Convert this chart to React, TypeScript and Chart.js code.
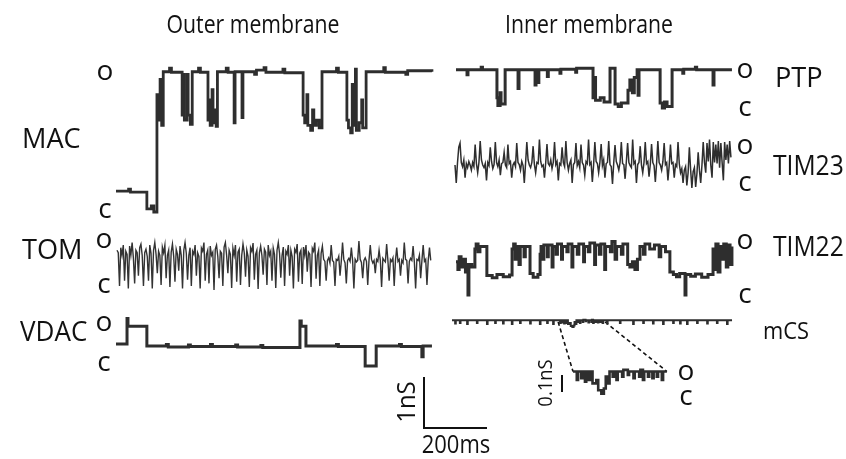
import React, { useEffect, useRef } from "react";
import { Chart, registerables } from "chart.js";

Chart.register(...registerables);

// ---------- calibration (from the scale bars) ----------
const W = 846;
const H = 459;
const PX_PER_MS = 0.315; // 200 ms bar = 63 px
const PX_PER_NS = 51; // 1 nS bar = 51 px

// ---------- data: [time ms, conductance nS above closed level] ----------
type Step = [number, number];

const MAC_STEPS: Step[] = [
  [0, 0.41], [40, 0.45], [46, 0.39], [98, 0.06], [112, 0.12], [120, 0.0], [130, 2.3], [134, 1.8],
  [140, 2.6], [145, 1.7], [150, 2.75], [170, 2.82], [176, 2.74], [210, 1.9], [214, 2.7],
  [217, 1.8], [226, 2.7], [229, 1.9], [236, 1.72], [242, 2.75], [262, 2.82], [268, 2.74],
  [292, 1.8], [296, 2.2], [299, 1.7], [305, 2.4], [308, 1.75], [314, 2.0], [318, 1.68],
  [322, 2.75], [350, 2.82], [356, 2.74], [375, 1.75], [378, 2.75], [400, 1.85], [403, 2.75],
  [440, 2.7], [446, 2.78], [470, 2.83], [476, 2.74], [530, 2.8], [536, 2.73], [594, 1.9],
  [599, 1.75], [606, 2.3], [609, 1.7], [618, 1.6], [624, 2.0], [628, 1.7], [636, 1.8],
  [645, 1.65], [654, 2.75], [700, 2.82], [706, 2.74], [733, 1.8], [738, 1.65], [745, 1.55],
  [750, 2.5], [753, 1.7], [760, 2.8], [763, 1.6], [772, 1.75], [780, 2.2], [783, 1.65],
  [794, 2.75], [850, 2.83], [855, 2.74], [920, 2.7], [926, 2.77], [1003, 2.75],
];

const TOM_DT = 4;
const TOM_VALUES = [
  0.8, 0.75, 0.1, 0.85, 0.7, 0.9, 0.2, 0.78, 0.72, 0.05,
  0.88, 0.7, 0.95, 0.65, 0.15, 0.8, 0.75, 0.3, 0.85, 0.92,
  0.7, 0.1, 0.75, 0.82, 0.68, 0.2, 0.9, 0.74, 0.05, 0.8,
  0.95, 0.72, 0.35, 0.78, 0.7, 0.12, 0.86, 0.75, 0.9, 0.25,
  0.7, 0.8, 0.08, 0.76, 0.92, 0.68, 0.18, 0.82, 0.72, 0.4,
  0.88, 0.7, 0.05, 0.8, 0.95, 0.74, 0.22, 0.7, 0.85, 0.1,
  0.78, 0.72, 0.9, 0.3, 0.75, 0.68, 0.05, 0.84, 0.78, 0.95,
  0.2, 0.72, 0.8, 0.15, 0.88, 0.7, 0.76, 0.02, 0.82, 0.9,
  0.68, 0.25, 0.78, 0.74, 0.1, 0.86, 0.95, 0.7, 0.35, 0.8,
  0.72, 0.06, 0.84, 0.7, 0.9, 0.18, 0.76, 0.82, 0.12, 0.7,
  0.92, 0.75, 0.28, 0.8, 0.68, 0.08, 0.85, 0.78, 0.94, 0.22,
  0.72, 0.8, 0.04, 0.75, 0.88, 0.7, 0.32, 0.82, 0.76, 0.12,
  0.9, 0.7, 0.78, 0.2, 0.84, 0.72, 0.06, 0.8, 0.95, 0.74,
  0.26, 0.7, 0.86, 0.1, 0.78, 0.72, 0.9, 0.3, 0.8, 0.68,
  0.05, 0.82, 0.76, 0.92, 0.18, 0.74, 0.8, 0.14, 0.86, 0.7,
  0.9, 0.38, 0.76, 0.72, 0.08, 0.84, 0.78, 0.95, 0.24, 0.7,
  0.8, 0.1, 0.74, 0.88,
  0.62, 0.58, 0.2, 0.6, 0.65, 0.55, 0.9, 0.6, 0.57, 0.1,
  0.62, 0.6, 0.68, 0.3, 0.58, 0.95, 0.62, 0.55, 0.15, 0.6,
  0.64, 0.58, 0.85, 0.6, 0.05, 0.62, 0.57, 0.6, 0.98, 0.62,
  0.56, 0.25, 0.6, 0.65, 0.58, 0.12, 0.6, 0.9, 0.62, 0.55,
  0.6, 0.35, 0.62, 0.58, 0.8, 0.6, 0.08, 0.64, 0.6, 0.57,
  0.92, 0.6, 0.2, 0.62, 0.58, 0.65, 0.1, 0.6, 0.85, 0.58,
  0.62, 0.3, 0.6, 0.55, 0.95, 0.62, 0.6, 0.15, 0.58, 0.64,
  0.6, 0.88, 0.57, 0.05, 0.62, 0.6, 0.7, 0.25, 0.6, 0.9,
  0.58, 0.62, 0.12, 0.6, 0.85, 0.6,
];

const VDAC_STEPS: Step[] = [
  [0, 0.45], [35, 0.95], [38, 0.8], [98, 0.41], [160, 0.44], [166, 0.39], [230, 0.43],
  [236, 0.4], [300, 0.44], [306, 0.4], [380, 0.43], [386, 0.39], [460, 0.42], [466, 0.38],
  [584, 0.9], [588, 0.8], [603, 0.41], [700, 0.44], [706, 0.4], [791, 0.02], [826, 0.41],
  [900, 0.44], [906, 0.4], [971, 0.2], [975, 0.41], [1003, 0.41],
];

const PTP_STEPS: Step[] = [
  [0, 0.75], [35, 0.65], [38, 0.75], [80, 0.8], [84, 0.75], [130, 0.2], [133, 0.05],
  [140, 0.3], [143, 0.08], [156, 0.75], [197, 0.38], [200, 0.75], [251, 0.45], [254, 0.75],
  [260, 0.5], [263, 0.75], [290, 0.62], [293, 0.75], [330, 0.68], [333, 0.76], [380, 0.7],
  [383, 0.78], [435, 0.2], [440, 0.6], [443, 0.15], [458, 0.2], [470, 0.12], [489, 0.78],
  [505, 0.08], [515, 0.03], [525, 0.1], [546, 0.35], [552, 0.55], [560, 0.3], [566, 0.6],
  [575, 0.75], [578, 0.25], [581, 0.75], [648, 0.1], [655, 0.0], [662, 0.12], [670, 0.03],
  [686, 0.75], [720, 0.68], [723, 0.76], [760, 0.8], [764, 0.75], [816, 0.45], [819, 0.75],
  [876, 0.75],
];

const TIM23_DT = 4;
const TIM23_VALUES = [
  0.45, 0.1, 0.5, 0.8, 0.88, 0.5, 0.42, 0.55, 0.2, 0.48,
  0.4, 0.52, 0.45, 0.35, 0.5, 0.42, 0.85, 0.48, 0.3, 0.5,
  0.92, 0.55, 0.45, 0.4, 0.48, 0.15, 0.5, 0.44, 0.8, 0.52,
  0.38, 0.46, 0.9, 0.5, 0.42, 0.55, 0.25, 0.48, 0.5, 0.7,
  0.45, 0.4, 0.85, 0.48, 0.52, 0.2, 0.45, 0.5, 0.42, 0.88,
  0.5, 0.46, 0.35, 0.52, 0.44, 0.1, 0.48, 0.9, 0.55, 0.45,
  0.4, 0.5, 0.82, 0.46, 0.3, 0.5, 0.48, 0.95, 0.52, 0.42,
  0.45, 0.2, 0.5, 0.86, 0.48, 0.44, 0.55, 0.38, 0.5, 0.9,
  0.46, 0.52, 0.15, 0.48, 0.45, 0.8, 0.5, 0.42, 0.92, 0.5,
  0.35, 0.48, 0.55, 0.1, 0.46, 0.5, 0.88, 0.44, 0.52, 0.4,
  0.85, 0.5, 0.45, 0.25, 0.52, 0.48, 0.95, 0.46, 0.5, 0.12,
  0.45, 0.9, 0.52, 0.48, 0.3, 0.5, 0.86, 0.44, 0.55, 0.2,
  0.48, 0.5, 0.92, 0.46, 0.42, 0.08, 0.5, 0.84, 0.52, 0.45,
  0.35, 0.5, 0.9, 0.48, 0.46, 0.18, 0.52, 0.88, 0.5, 0.44,
  0.4, 0.95, 0.48, 0.52, 0.1, 0.46, 0.5, 0.82, 0.45, 0.3,
  0.5, 0.9, 0.48, 0.52, 0.22, 0.46, 0.86, 0.5, 0.44, 0.12,
  0.48, 0.92, 0.5, 0.45, 0.35, 0.52, 0.88, 0.46, 0.5, 0.15,
  0.44, 0.85, 0.48, 0.5, 0.2, 0.46, 0.42, 0.9, 0.48, 0.3,
  0.38, 0.1, 0.35, 0.42, 0.05, 0.3, 0.8, 0.36, 0.0, 0.32,
  0.4, 0.02, 0.28, 0.7, 0.35, 0.1, 0.45, 0.9, 0.5, 0.3,
  0.88, 0.52, 0.95, 0.45, 0.2, 0.9, 0.5, 0.85, 0.48, 0.92,
  0.4, 0.88, 0.5, 0.15, 0.9, 0.55, 0.85, 0.48, 0.92, 0.6,
];

const TIM22_STEPS: Step[] = [
  [0, 0.65], [6, 0.5], [10, 0.75], [16, 0.55], [22, 0.7], [30, 0.45], [35, 0.6], [38, 0.0],
  [41, 0.6], [50, 0.55], [60, 0.9], [64, 1.0], [70, 0.85], [76, 0.95], [98, 0.38], [115, 0.34],
  [130, 0.4], [150, 0.36], [170, 0.39], [178, 0.9], [183, 1.0], [188, 0.7], [192, 0.95],
  [200, 0.6], [204, 0.95], [216, 0.75], [220, 0.95], [235, 0.42], [245, 0.35], [260, 0.4],
  [267, 0.8], [270, 0.95], [276, 0.7], [279, 0.98], [290, 0.75], [293, 0.98], [305, 0.55],
  [308, 0.95], [318, 0.8], [322, 1.0], [335, 0.7], [338, 0.95], [352, 0.85], [356, 1.0],
  [368, 0.55], [371, 0.95], [385, 0.8], [390, 1.0], [405, 0.65], [408, 0.95], [420, 0.85],
  [425, 1.02], [440, 0.6], [443, 0.98], [455, 0.8], [460, 1.0], [472, 0.5], [475, 0.95],
  [490, 0.85], [495, 1.05], [505, 0.7], [510, 0.95], [525, 0.8], [530, 1.0], [545, 0.6],
  [552, 0.55], [560, 0.65], [568, 0.5], [576, 0.7], [584, 0.95], [595, 0.8], [600, 1.0],
  [615, 0.9], [630, 0.98], [645, 0.75], [650, 0.95], [665, 0.85], [679, 0.45], [690, 0.4],
  [700, 0.36], [710, 0.42], [727, 0.0], [730, 0.4], [745, 0.37], [760, 0.41], [780, 0.35],
  [800, 0.4], [816, 0.9], [820, 0.5], [825, 1.0], [832, 0.45], [838, 0.95], [845, 0.7],
  [850, 1.0], [858, 0.55], [863, 0.98], [870, 0.6], [876, 0.95],
];

const MCS_STEPS: Step[] = [
  [0, 0.15], [10, 0.09], [12, 0.15], [25, 0.1], [27, 0.15], [48, 0.08], [50, 0.15],
  [79, 0.1], [81, 0.15], [111, 0.08], [113, 0.15], [137, 0.1], [139, 0.15], [162, 0.09],
  [164, 0.15], [190, 0.08], [192, 0.15], [216, 0.1], [218, 0.15], [248, 0.09], [250, 0.15],
  [279, 0.08], [281, 0.15], [302, 0.1], [304, 0.15], [321, 0.08], [323, 0.15],
  [343, 0.1], [345, 0.15], [350, 0.11], [352, 0.15], [356, 0.09], [358, 0.15], [362, 0.1],
  [364, 0.15], [368, 0.08], [374, 0.1], [377, 0.04], [382, 0.02], [386, 0.05], [389, 0.12],
  [392, 0.08], [395, 0.15], [400, 0.12], [402, 0.15], [406, 0.1], [408, 0.15], [415, 0.12],
  [417, 0.16], [424, 0.13], [426, 0.15], [433, 0.11], [435, 0.15], [442, 0.12], [444, 0.16],
  [448, 0.1], [450, 0.15], [456, 0.12], [458, 0.15], [463, 0.11], [465, 0.15], [470, 0.12],
  [472, 0.15], [478, 0.1], [480, 0.15], [492, 0.09], [494, 0.15], [533, 0.1], [535, 0.15],
  [575, 0.08], [577, 0.15], [607, 0.1], [609, 0.15], [638, 0.09], [640, 0.15], [670, 0.08],
  [672, 0.15], [702, 0.1], [704, 0.15], [724, 0.09], [726, 0.15], [746, 0.08], [748, 0.15],
  [778, 0.1], [780, 0.15], [810, 0.09], [812, 0.15], [841, 0.1], [843, 0.15], [873, 0.08],
  [875, 0.15], [889, 0.15],
];

// zoomed window of mCS trace (ms)
const MCS_WINDOW: [number, number] = [337, 486];
const MCS_OPEN = 0.15;

// scale bars
const SCALE_T_MS = 200;
const SCALE_G_NS = 1;
const INSET_SCALE_G_NS = 0.1;

// ---------- layout (pixel anchors of each panel) ----------
const LAYOUT = {
  mac: { left: 116, closedY: 212 },
  tom: { left: 117, closedY: 291 },
  vdac: { left: 116, closedY: 367 },
  ptp: { left: 456, closedY: 108 },
  tim23: { left: 455, closedY: 188 },
  tim22: { left: 456, closedY: 295 },
  mcs: { left: 452, closedY: 328 },
  inset: { left: 573, closedY: 397, magX: 2, magY: 3.33 },
  scaleBar: { left: 424, bottom: 428 },
  insetBar: { left: 562, bottom: 392 },
};

const TRACE_COLOR = "#2e2e2e";
const FONT = "'Open Sans', 'Noto Sans', sans-serif";

const toMs = (px: number) => px / PX_PER_MS;
const toNs = (py: number) => (H - py) / PX_PER_NS;

function stepPoints(steps: Step[], x0: number, y0: number) {
  return steps.map(([t, g]) => ({ x: x0 + t, y: y0 + g }));
}
function samplePoints(vals: number[], dt: number, x0: number, y0: number) {
  return vals.map((g, i) => ({ x: x0 + i * dt, y: y0 + g }));
}
function windowSteps(steps: Step[], a: number, b: number): Step[] {
  let cur = steps[0][1];
  for (const [t, g] of steps) if (t <= a) cur = g;
  const out: Step[] = [[a, cur]];
  for (const [t, g] of steps) if (t > a && t < b) out.push([t, g]);
  out.push([b, out[out.length - 1][1]]);
  return out;
}

type Label = {
  text: string;
  x: number;
  y: number;
  size: number;
  anchor?: "left" | "center";
  rotate?: boolean;
  sx?: number;
};
const LABELS: Label[] = [
  { text: "Outer membrane", x: 253, y: 23, size: 25, anchor: "center", sx: 0.85 },
  { text: "Inner membrane", x: 589, y: 23, size: 25, anchor: "center", sx: 0.85 },
  { text: "MAC", x: 22, y: 137, size: 28, sx: 0.97 },
  { text: "TOM", x: 22, y: 248, size: 28, sx: 0.97 },
  { text: "VDAC", x: 20, y: 330, size: 28, sx: 0.93 },
  { text: "o", x: 105, y: 69, size: 28, anchor: "center" },
  { text: "c", x: 105, y: 207, size: 28, anchor: "center" },
  { text: "o", x: 104, y: 237, size: 28, anchor: "center" },
  { text: "c", x: 104, y: 282, size: 28, anchor: "center" },
  { text: "o", x: 104, y: 320, size: 28, anchor: "center" },
  { text: "c", x: 104, y: 360, size: 28, anchor: "center" },
  { text: "o", x: 745, y: 67, size: 28, anchor: "center" },
  { text: "c", x: 745, y: 105, size: 28, anchor: "center" },
  { text: "o", x: 745, y: 143, size: 28, anchor: "center" },
  { text: "c", x: 745, y: 180, size: 28, anchor: "center" },
  { text: "o", x: 745, y: 238, size: 28, anchor: "center" },
  { text: "c", x: 745, y: 292, size: 28, anchor: "center" },
  { text: "PTP", x: 775, y: 76, size: 28, sx: 0.97 },
  { text: "TIM23", x: 773, y: 164, size: 28, sx: 0.88 },
  { text: "TIM22", x: 773, y: 245, size: 28, sx: 0.88 },
  { text: "mCS", x: 763, y: 330, size: 23, sx: 0.95 },
  { text: "o", x: 686, y: 369, size: 28, anchor: "center" },
  { text: "c", x: 686, y: 394, size: 28, anchor: "center" },
  { text: "1nS", x: 405, y: 402, size: 26, anchor: "center", rotate: true, sx: 0.92 },
  { text: "200ms", x: 456, y: 443, size: 25, anchor: "center", sx: 0.88 },
  { text: "0.1nS", x: 545, y: 383, size: 20, anchor: "center", rotate: true, sx: 0.92 },
];

export default function App() {
  const canvasRef = useRef<HTMLCanvasElement | null>(null);

  useEffect(() => {
    if (!canvasRef.current) return;
    const L = LAYOUT;
    const origin = (p: { left: number; closedY: number }) => [toMs(p.left), toNs(p.closedY)];

    const [macX, macY] = origin(L.mac);
    const [tomX, tomY] = origin(L.tom);
    const [vdX, vdY] = origin(L.vdac);
    const [ptpX, ptpY] = origin(L.ptp);
    const [t23X, t23Y] = origin(L.tim23);
    const [t22X, t22Y] = origin(L.tim22);
    const [mcsX, mcsY] = origin(L.mcs);
    const [insX, insY] = origin(L.inset);

    const [wa, wb] = MCS_WINDOW;
    const insetData = windowSteps(MCS_STEPS, wa, wb).map(([t, g]) => ({
      x: insX + (t - wa) * L.inset.magX,
      y: insY + g * L.inset.magY,
    }));
    const insetEndX = insX + (wb - wa) * L.inset.magX;

    const sbX = toMs(L.scaleBar.left);
    const sbY = toNs(L.scaleBar.bottom);
    const ibX = toMs(L.insetBar.left);
    const ibY = toNs(L.insetBar.bottom);

    const trace = (data: any[], stepped: any, width = 2.2, color = TRACE_COLOR) => ({
      data,
      showLine: true,
      stepped,
      borderColor: color,
      borderWidth: width,
      pointRadius: 0,
      tension: 0,
    });

    const chart = new Chart(canvasRef.current, {
      type: "scatter",
      data: {
        datasets: [
          trace(stepPoints(MAC_STEPS, macX, macY), true, 2.8),
          trace(samplePoints(TOM_VALUES, TOM_DT, tomX, tomY), false, 1.4, "#333"),
          trace(stepPoints(VDAC_STEPS, vdX, vdY), true, 3),
          trace(stepPoints(PTP_STEPS, ptpX, ptpY), true, 3),
          trace(samplePoints(TIM23_VALUES, TIM23_DT, t23X, t23Y), false, 1.5, "#2e2e2e"),
          trace(stepPoints(TIM22_STEPS, t22X, t22Y), true, 3),
          trace(stepPoints(MCS_STEPS, mcsX, mcsY), true, 2),
          trace(insetData, true, 2.6),
          {
            ...trace(
              [
                { x: mcsX + wa, y: mcsY + MCS_OPEN - 0.03 },
                { x: insX, y: insY + MCS_OPEN * L.inset.magY },
              ],
              false,
              1.6,
              "#111"
            ),
            borderDash: [4, 3],
          },
          {
            ...trace(
              [
                { x: mcsX + wb, y: mcsY + MCS_OPEN - 0.03 },
                { x: insetEndX, y: insY + MCS_OPEN * L.inset.magY },
              ],
              false,
              1.6,
              "#111"
            ),
            borderDash: [4, 3],
          },
          trace(
            [
              { x: sbX, y: sbY + SCALE_G_NS },
              { x: sbX, y: sbY },
              { x: sbX + SCALE_T_MS, y: sbY },
            ],
            false,
            2,
            "#111"
          ),
          trace(
            [
              { x: ibX, y: ibY },
              { x: ibX, y: ibY + INSET_SCALE_G_NS * L.inset.magY },
            ],
            false,
            2,
            "#111"
          ),
        ],
      },
      options: {
        responsive: false,
        maintainAspectRatio: false,
        animation: false,
        devicePixelRatio: 1,
        layout: { padding: 0 },
        plugins: { legend: { display: false }, tooltip: { enabled: false } },
        scales: {
          x: { type: "linear", min: 0, max: W / PX_PER_MS, display: false },
          y: { type: "linear", min: 0, max: H / PX_PER_NS, display: false },
        },
      },
    });
    return () => chart.destroy();
  }, []);

  return (
    <div
      style={{
        position: "fixed",
        left: 0,
        top: 0,
        width: W,
        height: H,
        background: "#fff",
        overflow: "hidden",
      }}
    >
      <canvas ref={canvasRef} width={W} height={H} style={{ position: "absolute", left: 0, top: 0 }} />
      {LABELS.map((l, i) => (
        <div
          key={i}
          style={{
            position: "absolute",
            left: l.x,
            top: l.y,
            fontFamily: FONT,
            fontSize: l.size,
            lineHeight: 1,
            color: "#111",
            whiteSpace: "nowrap",
            transformOrigin: l.anchor === "center" ? "50% 50%" : "0 50%",
            transform:
              (l.anchor === "center" ? "translate(-50%, -50%)" : "translate(0, -50%)") +
              (l.rotate ? " rotate(-90deg)" : "") +
              ` scaleX(${l.sx ?? 1})`,
          }}
        >
          {l.text}
        </div>
      ))}
    </div>
  );
}
